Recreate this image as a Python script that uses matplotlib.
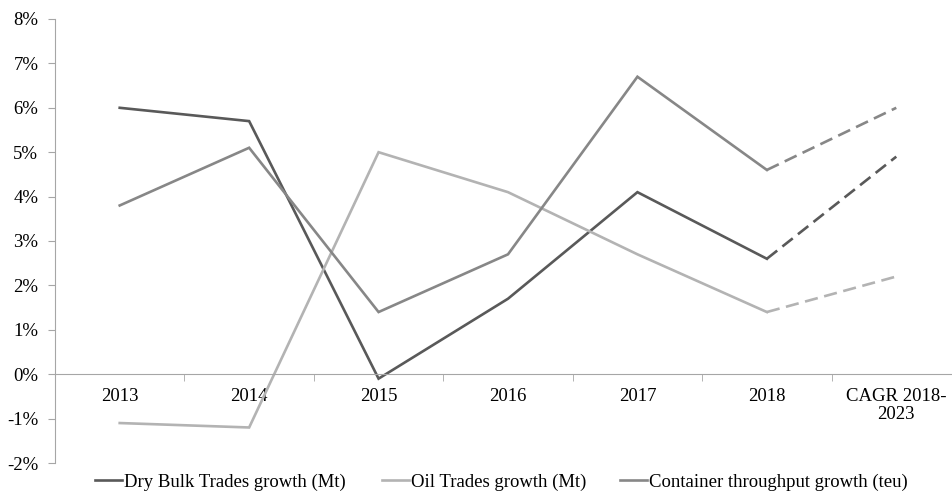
import matplotlib
matplotlib.use("Agg")
import matplotlib.pyplot as plt
from matplotlib.lines import Line2D

plt.rcParams['font.family'] = ['Liberation Serif', 'DejaVu Serif']

# categories and series (in %)
categories = ['2013', '2014', '2015', '2016', '2017', '2018', 'CAGR 2018-\n2023']
dry_bulk = [6.0, 5.7, -0.1, 1.7, 4.1, 2.6, 4.9]
oil = [-1.1, -1.2, 5.0, 4.1, 2.7, 1.4, 2.2]
container = [3.8, 5.1, 1.4, 2.7, 6.7, 4.6, 6.0]

labels = ['Dry Bulk Trades growth (Mt)', 'Oil Trades growth (Mt)',
          'Container throughput growth (teu)']
colors = ['#595959', '#b3b3b3', '#878787']
series = [dry_bulk, oil, container]

fig = plt.figure(figsize=(9.52, 4.91), dpi=100)
ax = fig.add_axes([55 / 952, 28 / 491, 906 / 952, 444 / 491])

x = list(range(len(categories)))
n = len(categories)
for vals, col in zip(series, colors):
    # solid for the historical years, dashed for the CAGR projection
    ax.plot(x[:n - 1], vals[:n - 1], color=col, lw=1.9, solid_joinstyle='miter')
    ax.plot(x[n - 2:], vals[n - 2:], color=col, lw=1.9, ls=(0, (5, 2.5)))

ax.set_xlim(-0.5, n - 0.5)
ax.set_ylim(-2, 8)
ax.set_yticks(range(-2, 9))
ax.set_yticklabels([f'{v}%' for v in range(-2, 9)])

ax.spines['top'].set_visible(False)
ax.spines['right'].set_visible(False)
ax.spines['left'].set_color('#a6a6a6')
ax.spines['bottom'].set_position(('data', 0))
ax.spines['bottom'].set_color('#a6a6a6')

ax.set_xticks(x)
ax.set_xticklabels(categories, fontsize=13.5, linespacing=1.1)
ax.set_xticks([i - 0.5 for i in range(1, n)], minor=True)
ax.tick_params(axis='x', which='major', length=0, pad=10, colors='#000000')
ax.tick_params(axis='x', which='minor', length=5, direction='out', color='#a6a6a6')
ax.tick_params(axis='y', length=5, color='#a6a6a6', labelsize=13.5, pad=7)

# legend entries placed individually along the bottom
legend_x = [95, 382, 620]
for lx, lab, col in zip(legend_x, labels, colors):
    h = Line2D([], [], color=col, lw=1.9)
    fig.legend(handles=[h], labels=[lab], loc='center left',
               bbox_to_anchor=(lx / 952, 9 / 491), frameon=False, fontsize=13.5,
               handlelength=1.45, handletextpad=0.1, borderpad=0, borderaxespad=0)

fig.savefig('out.png', dpi=100)
